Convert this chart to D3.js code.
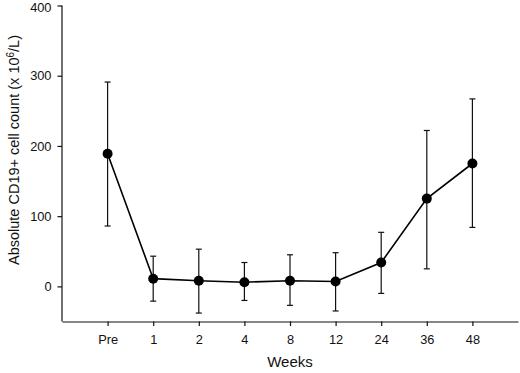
<!DOCTYPE html>
<html>
<head>
<meta charset="utf-8">
<script src="https://cdn.jsdelivr.net/npm/d3@7"></script>
<style>
  body { margin: 0; background: #fff; }
  svg { display: block; font-family: "Liberation Sans", Arial, sans-serif; }
</style>
</head>
<body>
<div id="chart"></div>
<script>
const weeks = ["Pre", "1", "2", "4", "8", "12", "24", "36", "48"]
const means = [189, 11, 8, 6, 8, 7, 34, 125, 175]
const upper = [291, 43, 53, 34, 45, 48, 77, 222, 267]
const lower = [86, -21, -38, -20, -27, -35, -10, 25, 84]
const yTicks = [0, 100, 200, 300, 400]

const W = 520, H = 373

const svg = d3.select("#chart").append("svg")
    .attr("width", W)
    .attr("height", H)

// categories sit on integer slots, axis runs one slot past each end
const x = d3.scaleLinear()
    .domain([-1, weeks.length])
    .range([62, 518])

const y = d3.scaleLinear()
    .domain([-50, 400])
    .range([321.5, 5.5])

const data = weeks.map((w, i) => ({ w, i, m: means[i], hi: upper[i], lo: lower[i] }))

// y axis
const yAxis = svg.append("g")
    .attr("transform", "translate(62,0)")
    .call(d3.axisLeft(y).tickValues(yTicks).tickSize(4.5).tickPadding(6).tickSizeOuter(0))
yAxis.select(".domain").attr("d", `M0,${y(400)}V${y(-50)}`)
// top label sits flush with the page edge, nudge it down a touch
yAxis.selectAll(".tick text").filter(d => d === 400).attr("y", 1.5)

// x axis
const xAxis = svg.append("g")
    .attr("transform", `translate(0,${y(-50)})`)
    .call(d3.axisBottom(x)
        .tickValues(d3.range(weeks.length))
        .tickFormat(i => weeks[i])
        .tickSize(4.5).tickPadding(9).tickSizeOuter(0))

svg.selectAll(".tick text")
    .attr("font-size", 12.8)
    .attr("font-family", "Liberation Sans, Arial, sans-serif")
    .attr("fill", "#111")
svg.selectAll(".domain, .tick line").attr("stroke", "#111").attr("stroke-width", 1.2)

// error bars
const eb = svg.append("g").attr("stroke", "#111").attr("stroke-width", 1.2)
eb.selectAll("line.v").data(data).join("line")
    .attr("x1", d => x(d.i)).attr("x2", d => x(d.i))
    .attr("y1", d => y(d.hi)).attr("y2", d => y(d.lo))
for (const k of ["hi", "lo"]) {
    eb.selectAll("line.c" + k).data(data).join("line")
        .attr("x1", d => x(d.i) - 3).attr("x2", d => x(d.i) + 3)
        .attr("y1", d => y(d[k])).attr("y2", d => y(d[k]))
}

// mean line
const line = d3.line().x(d => x(d.i)).y(d => y(d.m))
svg.append("path")
    .datum(data)
    .attr("fill", "none")
    .attr("stroke", "#000")
    .attr("stroke-width", 1.6)
    .attr("d", line)

svg.append("g").selectAll("circle").data(data).join("circle")
    .attr("cx", d => x(d.i))
    .attr("cy", d => y(d.m))
    .attr("r", 5)
    .attr("fill", "#000")

// axis titles
svg.append("text")
    .attr("x", 290).attr("y", 367)
    .attr("text-anchor", "middle")
    .attr("font-size", 15)
    .attr("fill", "#111")
    .text("Weeks")

const yt = svg.append("text")
    .attr("transform", "translate(19,150) rotate(-90)")
    .attr("text-anchor", "middle")
    .attr("font-size", 14.5)
    .attr("fill", "#111")
yt.append("tspan").text("Absolute CD19+ cell count (x 10")
yt.append("tspan").attr("dy", -5).attr("font-size", 10).text("6")
yt.append("tspan").attr("dy", 5).text("/L)")
</script>
</body>
</html>
